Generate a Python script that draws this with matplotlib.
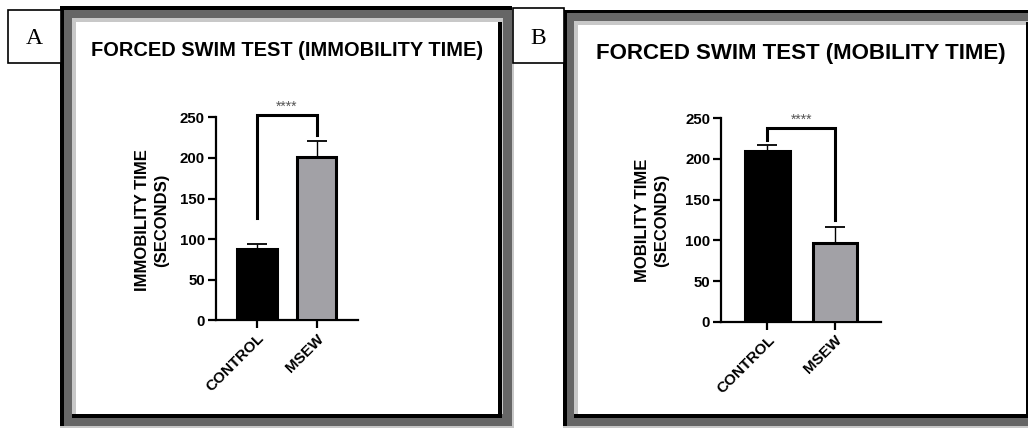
import matplotlib
matplotlib.use("Agg")
import matplotlib.pyplot as plt
from matplotlib.patches import Rectangle

plt.rcParams['font.family'] = ['Liberation Sans', 'DejaVu Sans']

# ---------------- data ----------------
categories = ["CONTROL", "MSEW"]
immobility_mean = [87.4, 201.5]
immobility_sem = [6.9, 19.7]
mobility_mean = [210.2, 96.4]
mobility_sem = [7.0, 19.6]
bar_colors = ["#000000", "#a2a1a6"]
yticks = [0, 50, 100, 150, 200, 250]
titles = ["FORCED SWIM TEST (IMMOBILITY TIME)", "FORCED SWIM TEST (MOBILITY TIME)"]
ylabels = ["IMMOBILITY TIME\n(SECONDS)", "MOBILITY TIME\n(SECONDS)"]
panel_letters = ["A", "B"]
sig_label = "****"
# bracket: [left leg bottom, top, right leg bottom]
brackets = [[125.6, 252.8, 228.0], [223.3, 237.7, 125.0]]

W, H = 1028, 428
fig = plt.figure(figsize=(W / 100, H / 100), dpi=100)
fig.patch.set_facecolor("white")


def rect(x0, y0, x1, y1, color, z=0):
    # pixel coords, y measured from top
    fig.add_artist(Rectangle((x0 / W, 1 - y1 / H), (x1 - x0) / W, (y1 - y0) / H,
                             transform=fig.transFigure, facecolor=color,
                             edgecolor="none", zorder=z))


DARK = "#666666"
LIGHT = "#c8c8c8"

# ---- frame A ----
rect(60, 6, 512, 427, DARK)
rect(60, 6, 512, 10, "black")
rect(60, 6, 64, 427, "black")
rect(60, 426, 514, 428, LIGHT)
rect(512, 10, 514, 428, LIGHT)
rect(72, 18, 503, 414, LIGHT)
rect(76, 22, 498, 414, "white")
rect(498, 22, 502, 418, "black")
rect(72, 414, 502, 418, "black")

# ---- frame B ----
rect(563, 10, 1028, 427, DARK)
rect(563, 10, 1028, 13, "black")
rect(563, 10, 567, 427, "black")
rect(563, 426, 1028, 428, LIGHT)
rect(574, 21, 1028, 414, LIGHT)
rect(578, 25, 1026, 414, "white")
rect(1026, 22, 1028, 418, "black")
rect(574, 414, 1028, 418, "black")

# ---- letter boxes ----
for (x0, y0, x1, y1), letter in zip([(8, 10, 61, 63), (513, 8, 564, 63)], panel_letters):
    fig.add_artist(Rectangle((x0 / W, 1 - y1 / H), (x1 - x0) / W, (y1 - y0) / H,
                             transform=fig.transFigure, facecolor="white",
                             edgecolor="black", linewidth=1.2, zorder=2))
    fig.text((x0 + x1) / 2 / W, 1 - 39 / H, letter, family="Liberation Serif",
             fontsize=17, ha="center", va="center", zorder=3)

# ---- axes ----
specs = [
    dict(ax=(216, 117.3, 358, 320.3), xlim=(-0.68, 1.69), means=immobility_mean,
         sem=immobility_sem, title_xy=(287, 51), tfs=14.4, ylab_xy=(152, 220)),
    dict(ax=(721.3, 118.3, 880.7, 321.7), xlim=(-0.68, 1.675), means=mobility_mean,
         sem=mobility_sem, title_xy=(801, 53), tfs=16.0, ylab_xy=(652, 220)),
]

for i, s in enumerate(specs):
    x0, y0, x1, y1 = s["ax"]
    ax = fig.add_axes([x0 / W, 1 - y1 / H, (x1 - x0) / W, (y1 - y0) / H], zorder=5)
    ax.set_facecolor("none")
    xs = list(range(len(categories)))
    ax.bar(xs, s["means"], width=0.66, color=bar_colors, edgecolor="black",
           linewidth=2.2, zorder=3)
    ax.errorbar(xs, s["means"], yerr=[[0] * len(xs), s["sem"]], fmt="none",
                ecolor="black", elinewidth=1.0, capsize=7, capthick=1.3, zorder=2)
    ax.set_xlim(*s["xlim"])
    ax.set_ylim(0, 250)
    ax.set_yticks(yticks)
    ax.set_yticklabels([str(t) for t in yticks], fontsize=10.8, fontweight="bold")
    ax.set_xticks(xs)
    ax.set_xticklabels(categories, rotation=45, ha="right", rotation_mode="anchor",
                       fontsize=11, fontweight="bold")
    for sp in ["top", "right"]:
        ax.spines[sp].set_visible(False)
    for sp in ["left", "bottom"]:
        ax.spines[sp].set_linewidth(1.6)
    ax.tick_params(axis="both", width=1.6, length=6, pad=2)
    b = brackets[i]
    ax.plot([0, 0, 1, 1], [b[0], b[1], b[1], b[2]], color="black", lw=2.2,
            clip_on=False, solid_joinstyle="miter", zorder=4)
    ax.text(0.5, b[1] + 2, sig_label, ha="center", va="bottom", fontsize=10,
            color="#555555")
    tx, ty = s["title_xy"]
    fig.text(tx / W, 1 - ty / H, titles[i], ha="center", va="center",
             fontsize=s["tfs"], fontweight="bold", zorder=6)
    lx, ly = s["ylab_xy"]
    fig.text(lx / W, 1 - ly / H, ylabels[i], ha="center", va="center", rotation=90,
             fontsize=12, fontweight="bold", linespacing=1.4, multialignment="center",
             zorder=6)

fig.savefig("out.png", dpi=100)
